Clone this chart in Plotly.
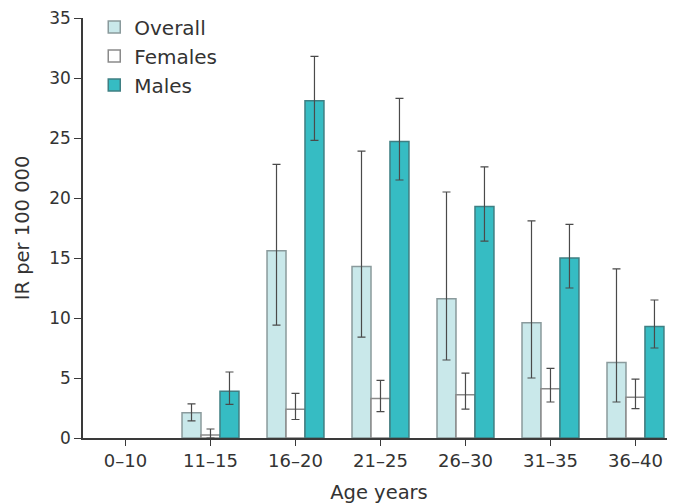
import plotly.graph_objects as go

categories = ["0–10", "11–15", "16–20", "21–25", "26–30", "31–35", "36–40"]

overall = [None, 2.1, 15.6, 14.3, 11.6, 9.6, 6.3]
overall_hi = [None, 2.85, 22.8, 23.9, 20.5, 18.1, 14.1]
overall_lo = [None, 1.42, 9.4, 8.4, 6.5, 5.0, 3.0]

females = [None, 0.25, 2.4, 3.3, 3.6, 4.1, 3.4]
females_hi = [None, 0.75, 3.72, 4.8, 5.4, 5.8, 4.9]
females_lo = [None, 0.0, 1.54, 2.2, 2.4, 3.0, 2.45]

males = [None, 3.9, 28.1, 24.7, 19.3, 15.0, 9.3]
males_hi = [None, 5.5, 31.8, 28.3, 22.6, 17.8, 11.5]
males_lo = [None, 2.8, 24.8, 21.5, 16.4, 12.5, 7.5]

y_ticks = [0, 5, 10, 15, 20, 25, 30, 35]


def err(v, hi, lo):
    plus = [None if a is None else h - a for a, h in zip(v, hi)]
    minus = [None if a is None else a - l for a, l in zip(v, lo)]
    return dict(type="data", symmetric=False, array=plus, arrayminus=minus,
                color="#4a4a4a", thickness=1.2, width=4)


series = [
    ("Overall", overall, overall_hi, overall_lo, "#c9e8ea", "#8a9a9c"),
    ("Females", females, females_hi, females_lo, "#ffffff", "#8a8a8a"),
    ("Males", males, males_hi, males_lo, "#36bcc3", "#3f7f83"),
]

fig = go.Figure()
for i, (name, v, hi, lo, fill, line) in enumerate(series):
    fig.add_trace(go.Bar(
        name=name, x=categories, y=v,
        marker=dict(color=fill, line=dict(color=line, width=1.5)),
        error_y=err(v, hi, lo),
        legendgroup=name,
    ))

font = "'DejaVu Sans', sans-serif"
fig.update_layout(
    width=675, height=504,
    margin=dict(l=75, r=8, t=10, b=74, autoexpand=False),
    paper_bgcolor="white", plot_bgcolor="white",
    barmode="group", bargap=0.33, bargroupgap=0,
    font=dict(family=font, size=18, color="#333333"),
    showlegend=True,
    legend=dict(x=0.019, y=1.025, xanchor="left", yanchor="top",
                bgcolor="rgba(0,0,0,0)", traceorder="grouped",
                tracegroupgap=0, font=dict(size=20, color="#333333")),
    xaxis=dict(
        range=[-0.5, 6.465], showline=True, linecolor="#3a3a3a", linewidth=1.5,
        ticks="outside", ticklen=6, tickcolor="#3a3a3a", tickwidth=1.2,
        showgrid=False, zeroline=False, automargin=False,
        tickfont=dict(size=18, color="#333333"),
        title=dict(text="Age years", standoff=15, font=dict(size=19.5, color="#333333")),
    ),
    yaxis=dict(
        range=[0, 35], tickvals=y_ticks, showline=True, linecolor="#3a3a3a", linewidth=1.5,
        ticks="outside", ticklen=7, tickcolor="#3a3a3a", tickwidth=1.2,
        showgrid=False, zeroline=False, automargin=False, ticklabeloverflow="allow",
        tickfont=dict(size=17, color="#333333"),
        title=dict(text="IR per 100 000", standoff=14, font=dict(size=19.5, color="#333333")),
    ),
)

fig.write_html("out.html")
